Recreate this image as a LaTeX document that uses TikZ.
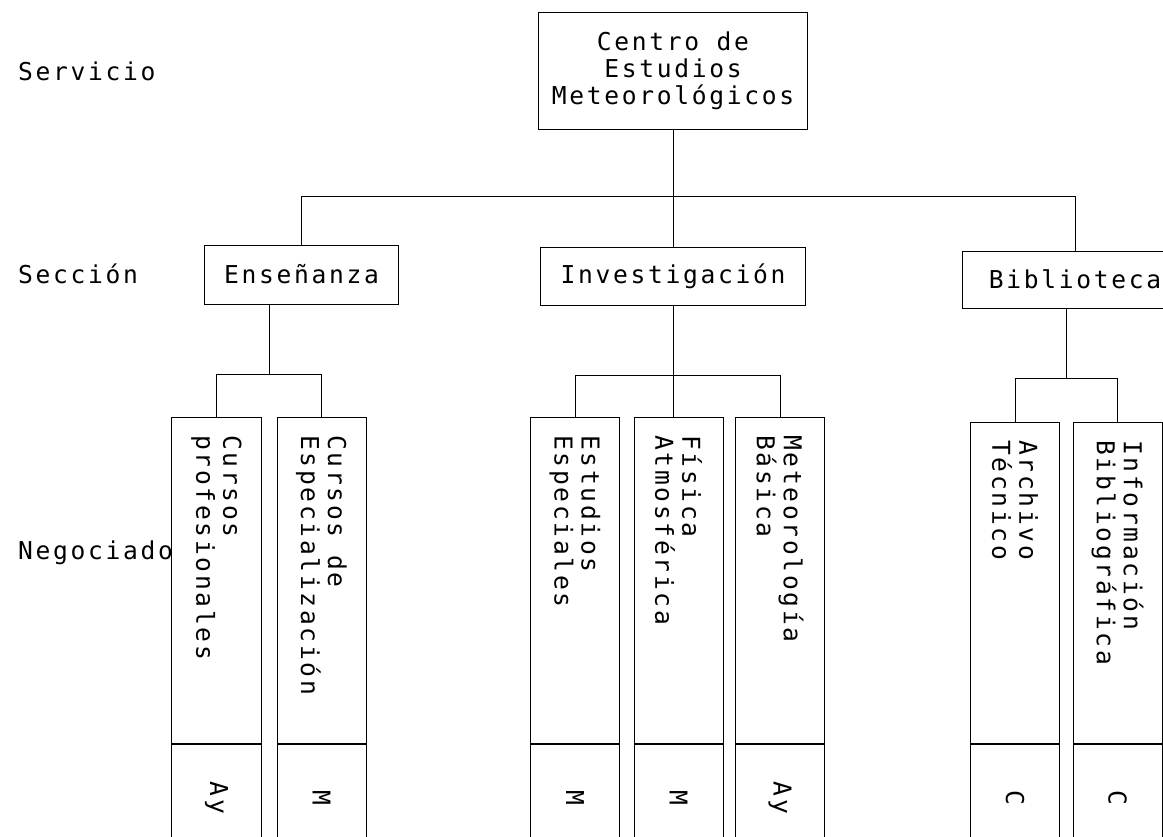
\documentclass[tikz,border=0pt]{standalone}
\usepackage{fontspec}
\setmainfont{DejaVu Sans Mono}[LetterSpace=10.9]
\usetikzlibrary{calc}

\begin{document}
\begin{tikzpicture}[x=0.025cm,y=-0.025cm,line width=0.7pt,
    every node/.style={font=\fontsize{17.5pt}{19.2pt}\selectfont},
    caja/.style={draw,inner sep=0pt,align=center},
    neg/.style={draw,rotate=-90,anchor=west,inner sep=0pt,
      minimum height=2.225cm,minimum width=8.15cm},
    negb/.style={neg,minimum width=8.025cm},
    negt/.style={rotate=-90,anchor=west,inner sep=0pt,align=left},
    cod/.style={draw,rotate=-90,anchor=west,inner sep=0pt,
      minimum height=2.225cm,minimum width=2.675cm}]
  \useasboundingbox (0,0) rectangle (1163,836);
  \clip (0,0) rectangle (1163,836);
  \node[anchor=base west](serv)at(13,80){Servicio};
  \node[anchor=base west](secc)at(13,283){Sección};
  \node[anchor=base west](nego)at(13,559){Negociado};
  \node[caja,minimum width=6.7cm,minimum height=2.9cm](cem)at(673,71){Centro de\\Estudios\\Meteorológicos};
  \node[caja,minimum width=4.825cm,minimum height=1.475cm](ens)at(301.5,274.5){Enseñanza};
  \node[caja,minimum width=6.6cm,minimum height=1.45cm](inv)at(673,276){Investigación};
  \node[caja,minimum width=5.6cm,minimum height=1.425cm](bib)at(1075,279.5){Biblioteca};
  \node[neg](cpro)at(216.5,417){};
  \node[neg](cesp)at(321.5,417){};
  \node[neg](eesp)at(575,417){};
  \node[neg](fatm)at(678.5,417){};
  \node[neg](mbas)at(780,417){};
  \node[negb](atec)at(1015,422){};
  \node[negb](ibib)at(1117.5,422){};
  \node[negt](cprot)at($(cpro.west)+(0,18)$){Cursos\\profesionales};
  \node[negt](cespt)at($(cesp.west)+(0,18)$){Cursos de\\Especialización};
  \node[negt](eespt)at($(eesp.west)+(0,18)$){Estudios\\Especiales};
  \node[negt](fatmt)at($(fatm.west)+(0,18)$){Física\\Atmosférica};
  \node[negt](mbast)at($(mbas.west)+(0,18)$){Meteorología\\Básica};
  \node[negt](atect)at($(atec.west)+(0,18)$){Archivo\\Técnico};
  \node[negt](ibibt)at($(ibib.west)+(0,18)$){Información\\Bibliográfica};
  \node[cod](cproc)at(cpro.east){Ay};
  \node[cod](cespc)at(cesp.east){M};
  \node[cod](eespc)at(eesp.east){M};
  \node[cod](fatmc)at(fatm.east){M};
  \node[cod](mbasc)at(mbas.east){Ay};
  \node[cod](atecc)at(atec.east){C};
  \node[cod](ibibc)at(ibib.east){C};
  \draw(ens.north)--++(0,-48)-|(bib.north);
  \draw(cem.south)--(inv.north);
  \coordinate(ensbar)at($(cpro.west)!.5!(cesp.west)+(0,-43)$);
  \draw(ens.south -| ensbar)--(ensbar);
  \draw(cpro.west)--++(0,-43)-|(cesp.west);
  \draw(inv.south)--(inv.south |- fatm.west);
  \draw(eesp.west)--++(0,-42)-|(mbas.west);
  \coordinate(bibbar)at($(atec.west)!.5!(ibib.west)+(0,-44)$);
  \draw(bib.south -| bibbar)--(bibbar);
  \draw(atec.west)--++(0,-44)-|(ibib.west);
\end{tikzpicture}
\end{document}
